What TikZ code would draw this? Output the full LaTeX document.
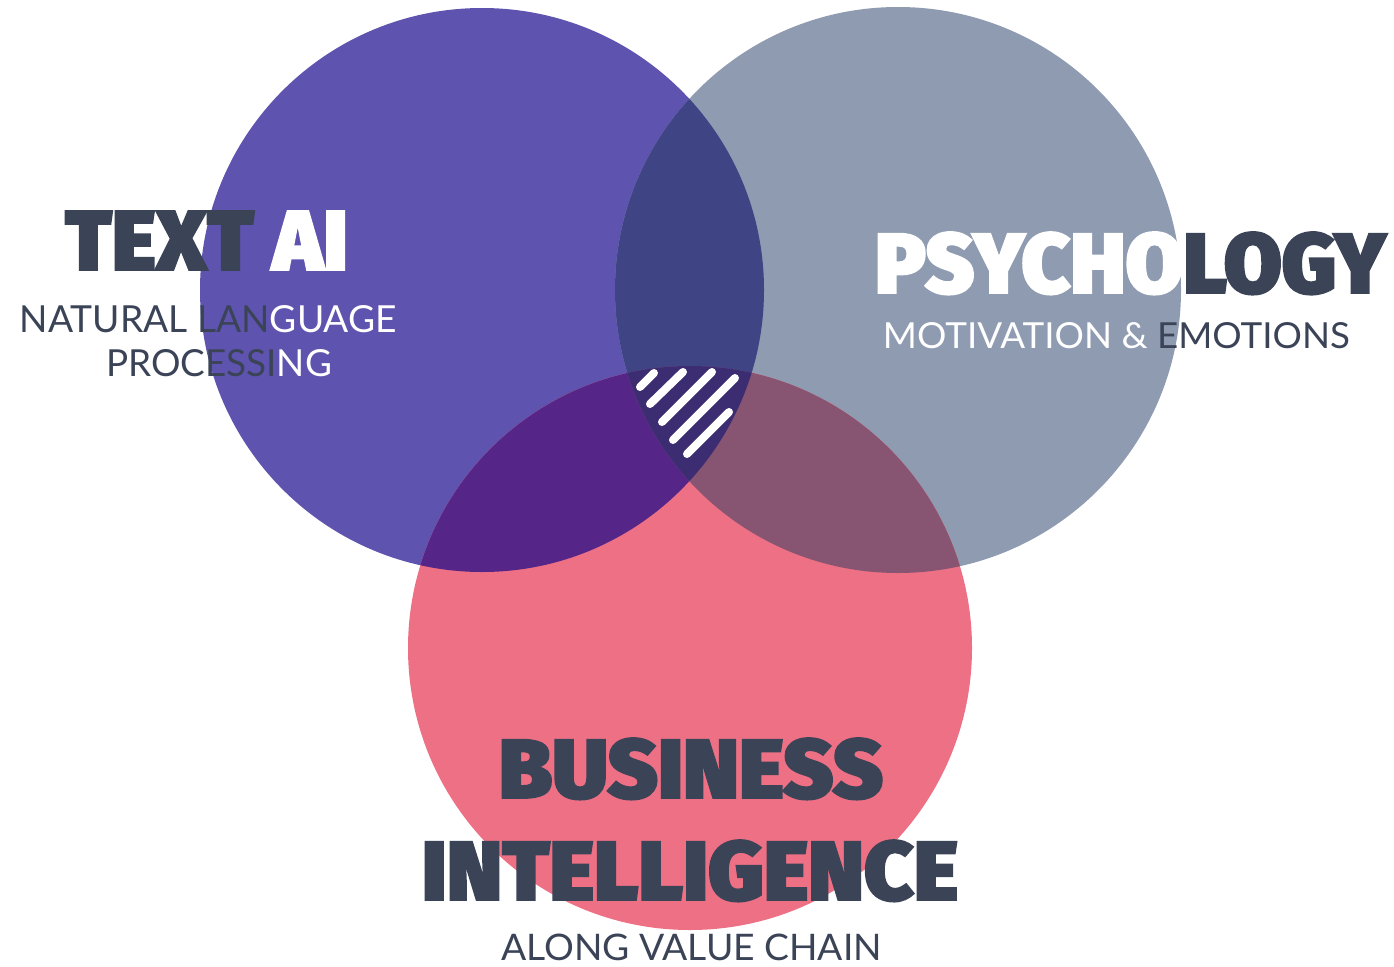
\documentclass[tikz,border=0pt]{standalone}
\usepackage{fontspec}
\setmainfont{Lato}
\IfFontExistsTF{Fira Sans Black}{\newfontfamily\heavy{Fira Sans Black}[FakeBold=2]}{\newfontfamily\heavy{Fira Sans}[FakeBold=4]}
\definecolor{cpurple}{HTML}{5E54AF}
\definecolor{cgray}{HTML}{8F9BB1}
\definecolor{cpink}{HTML}{ED7084}
\definecolor{cpg}{HTML}{3E4484}
\definecolor{cpp}{HTML}{552688}
\definecolor{cgp}{HTML}{875571}
\definecolor{ctri}{HTML}{3C2D72}
\definecolor{ctext}{HTML}{3B4357}
\tikzset{
  lbl/.style={anchor=base, inner sep=0pt, outer sep=0pt, text=ctext},
  stripe/.style={white, line width=8pt, line cap=round}
}
\begin{document}
\begin{tikzpicture}[x=1pt, y=-1pt]
\useasboundingbox (0,0) rectangle (1394,966);
\coordinate (P) at (482,290);
\coordinate (G) at (898,290);
\coordinate (K) at (690,648);
% base circles
\fill[cpurple] (P) circle[radius=282pt];
\fill[cgray] (G) circle[radius=283pt];
\fill[cpink] (K) circle[radius=282pt];
% pairwise overlaps
\begin{scope}
  \clip (P) circle[radius=282pt];
  \fill[cpg] (G) circle[radius=283pt];
\end{scope}
\begin{scope}
  \clip (P) circle[radius=282pt];
  \fill[cpp] (K) circle[radius=282pt];
\end{scope}
\begin{scope}
  \clip (G) circle[radius=283pt];
  \fill[cgp] (K) circle[radius=282pt];
\end{scope}
% triple overlap
\begin{scope}
  \clip (P) circle[radius=282pt];
  \clip (G) circle[radius=283pt];
  \fill[ctri] (K) circle[radius=282pt];
\end{scope}
% hatching
\draw[stripe] (640,387) -- (654,373);
\draw[stripe] (650,404) -- (683,372);
\draw[stripe] (662,422) -- (712,372);
\draw[stripe] (673,440) -- (735,378);
\draw[stripe] (687,454) -- (729,412);
% labels
\node[lbl] (textai) at (206.5,270) {\resizebox{283pt}{59pt}{\heavy TEXT \textcolor{white}{AI}}};
\node[lbl] (nlp1) at (208.5,332) {\resizebox{377pt}{27pt}{NATURAL LAN\textcolor{white}{GUAGE}}};
\node[lbl] (nlp2) at (219,376) {\resizebox{226pt}{27pt}{PROCESSI\textcolor{white}{NG}}};
\node[lbl] (psy) at (1130.5,293) {\resizebox{511pt}{61pt}{\heavy\textcolor{white}{PSYCHO}LOGY}};
\node[lbl] (mot) at (1116.5,348) {\resizebox{467pt}{26pt}{\textcolor{white}{MOTIVATION \&} EMOTIONS}};
\node[lbl] (bus) at (691,798) {\resizebox{384pt}{60pt}{\heavy BUSINESS}};
\node[lbl] (intel) at (690,900) {\resizebox{536pt}{60pt}{\heavy INTELLIGENCE}};
\node[lbl] (along) at (691.5,960.5) {\resizebox{381pt}{26.5pt}{ALONG VALUE CHAIN}};
\end{tikzpicture}
\end{document}
